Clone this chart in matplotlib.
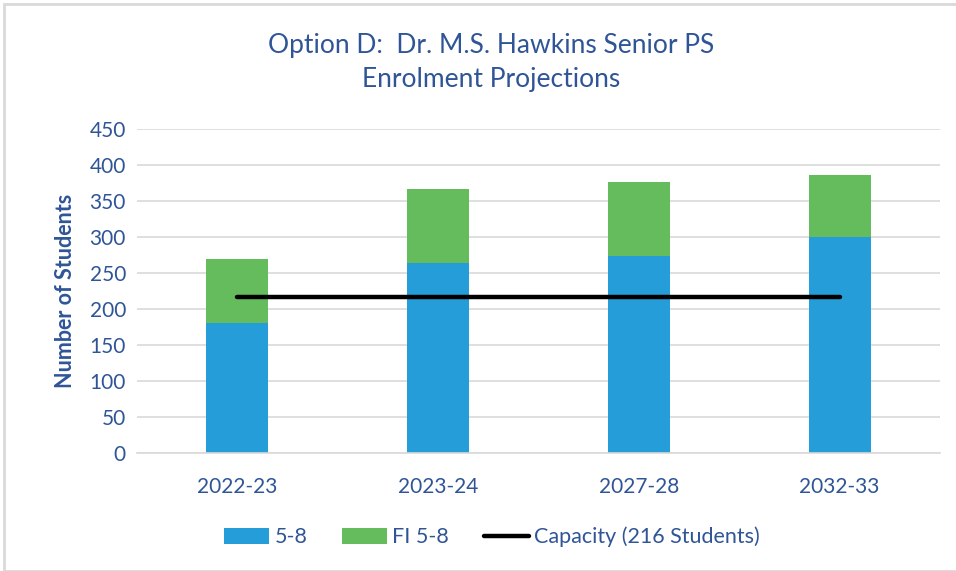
import matplotlib.pyplot as plt
from matplotlib.patches import Rectangle
import numpy as np

years = ["2022-23", "2023-24", "2027-28", "2032-33"]
grade_5_8 = [181, 264, 273, 300]
fi_5_8 = [89, 103, 103, 86]
capacity = [216, 216, 216, 216]

text_col = "#2F5597"
plt.rcParams['font.family'] = ['Lato', 'DejaVu Sans']

fig = plt.figure(figsize=(9.56, 5.71), dpi=100)
ax = fig.add_axes([137/956, 1-453/571, (940-137)/956, (453-129)/571])

x = np.arange(len(years))
b1 = ax.bar(x, grade_5_8, width=0.31, color="#259DD8", label="5-8", zorder=2)
b2 = ax.bar(x, fi_5_8, width=0.31, bottom=grade_5_8, color="#64BC5C", label="FI 5-8", zorder=2)
ln, = ax.plot(x, capacity, color="black", lw=3.2, solid_capstyle="round",
              label="Capacity (216 Students)", zorder=3)

ax.set_xlim(-0.5, 3.5)
ax.set_ylim(0, 450)
ax.set_yticks(range(0, 451, 50))
ax.set_xticks(x)
ax.set_xticklabels(years)
ax.grid(axis='y', color="#D9D9D9", lw=1.2, zorder=0)
for s in ["top", "right", "left"]:
    ax.spines[s].set_visible(False)
ax.spines["bottom"].set_color("#D9D9D9")
ax.spines["bottom"].set_linewidth(1.2)
ax.tick_params(length=0, labelsize=15, labelcolor=text_col, pad=8)
ax.tick_params(axis='x', pad=17)
ax.set_ylabel("Number of Students", fontsize=15.5, color=text_col, fontweight='bold', labelpad=10)

fig.text(491/956, 1-45/571, "Option D:  Dr. M.S. Hawkins Senior PS", ha='center', va='center',
         fontsize=19, color=text_col)
fig.text(491/956, 1-79/571, "Enrolment Projections", ha='center', va='center',
         fontsize=19, color=text_col)

fig.legend([b1, b2, ln], ["5-8", "FI 5-8", "Capacity (216 Students)"],
           loc='center', bbox_to_anchor=(492/956, 1-537/571), ncol=3, frameon=False,
           fontsize=15.5, labelcolor=text_col, handlelength=2.1, handleheight=0.75,
           columnspacing=1.6, handletextpad=0.25)

fig.patches.append(Rectangle((4/956, 0), 1, 1-4/571, transform=fig.transFigure,
                             fill=False, edgecolor="#D9D9D9", lw=2))

plt.savefig("out.png", dpi=100)
